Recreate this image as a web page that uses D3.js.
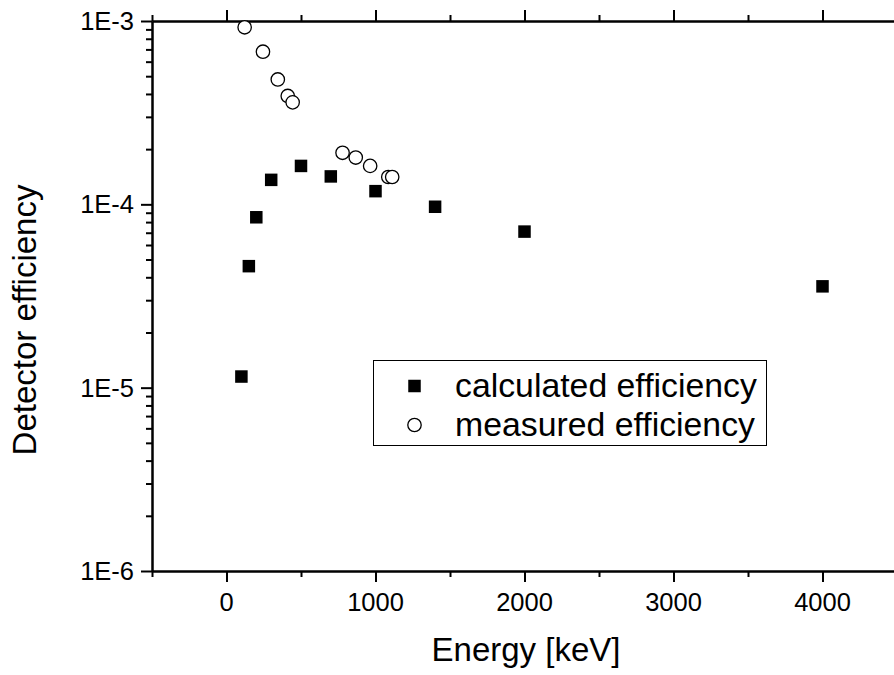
<!DOCTYPE html>
<html>
<head>
<meta charset="utf-8">
<script src="https://cdn.jsdelivr.net/npm/d3@7"></script>
<style>
  body { margin: 0; background: #fff; }
  svg { display: block; font-family: Arial, "Liberation Sans", sans-serif; }
  .axis path, .axis line { stroke: #000; stroke-width: 2; }
</style>
</head>
<body>
<div id="chart"></div>
<script>
var width = 894,
    height = 675;

// calculated efficiency (filled squares)
var calcEnergy = [100, 150, 200, 300, 500, 700, 1000, 1400, 2000, 4000];
var calcEff = [1.15e-5, 4.6e-5, 8.5e-5, 1.36e-4, 1.62e-4, 1.42e-4, 1.18e-4, 9.7e-5, 7.1e-5, 3.57e-5];

// measured efficiency (open circles)
var measEnergy = [121.8, 244.7, 344.3, 411.1, 444.0, 778.9, 867.4, 964.1, 1085.8, 1112.1];
var measEff = [9.24e-4, 6.8e-4, 4.8e-4, 3.9e-4, 3.6e-4, 1.91e-4, 1.80e-4, 1.62e-4, 1.41e-4, 1.41e-4];

var xMajor = [0, 1000, 2000, 3000, 4000];
var xMinor = [-500, 500, 1500, 2500, 3500, 4500];
var yMajor = [1e-6, 1e-5, 1e-4, 1e-3];
var yLabels = ["1E-6", "1E-5", "1E-4", "1E-3"];
var legendNames = ["calculated efficiency", "measured efficiency"];

var yMinor = [];
[1e-6, 1e-5, 1e-4].forEach(function (d) {
    for (var k = 2; k <= 9; k++) yMinor.push(d * k);
});

var plotLeft = 152, plotRight = 897, plotTop = 21, plotBottom = 571;

var x = d3.scaleLinear().domain([-500, 4500]).range([plotLeft, plotRight]);
var y = d3.scaleLog().domain([1e-6, 1e-3]).range([plotBottom, plotTop]);

var svg = d3.select("#chart")
    .append("svg")
    .attr("width", width)
    .attr("height", height);

// frame with ticks: outward on bottom/left, inward on top/right
svg.append("g").attr("class", "axis")
    .attr("transform", "translate(0," + plotBottom + ")")
    .call(d3.axisBottom(x).tickValues(xMajor).tickSize(11).tickSizeOuter(0).tickFormat(""));

svg.append("g").attr("class", "axis")
    .attr("transform", "translate(0," + plotBottom + ")")
    .call(d3.axisBottom(x).tickValues(xMinor).tickSize(6).tickSizeOuter(0).tickFormat(""));

svg.append("g").attr("class", "axis")
    .attr("transform", "translate(0," + plotTop + ")")
    .call(d3.axisBottom(x).tickValues(xMajor).tickSize(-11).tickSizeOuter(0).tickFormat(""));

svg.append("g").attr("class", "axis")
    .attr("transform", "translate(0," + plotTop + ")")
    .call(d3.axisBottom(x).tickValues(xMinor).tickSize(-6).tickSizeOuter(0).tickFormat(""));

svg.append("g").attr("class", "axis")
    .attr("transform", "translate(" + plotLeft + ",0)")
    .call(d3.axisLeft(y).tickValues(yMajor).tickSize(11).tickSizeOuter(0).tickFormat(""));

svg.append("g").attr("class", "axis")
    .attr("transform", "translate(" + plotLeft + ",0)")
    .call(d3.axisLeft(y).tickValues(yMinor).tickSize(6).tickSizeOuter(0).tickFormat(""));

svg.append("g").attr("class", "axis")
    .attr("transform", "translate(" + plotRight + ",0)")
    .call(d3.axisLeft(y).tickValues(yMajor).tickSize(-11).tickSizeOuter(0).tickFormat(""));

svg.append("g").attr("class", "axis")
    .attr("transform", "translate(" + plotRight + ",0)")
    .call(d3.axisLeft(y).tickValues(yMinor).tickSize(-6).tickSizeOuter(0).tickFormat(""));

// tick labels
svg.selectAll(".xlab")
    .data(xMajor)
    .enter()
    .append("text")
    .attr("x", function (d) { return x(d); })
    .attr("y", 611)
    .attr("text-anchor", "middle")
    .style("font-size", "25.5px")
    .text(function (d) { return d; });

svg.selectAll(".ylab")
    .data(yMajor)
    .enter()
    .append("text")
    .attr("x", 134)
    .attr("y", function (d) { return y(d) + 9; })
    .attr("text-anchor", "end")
    .style("font-size", "25.5px")
    .text(function (d, i) { return yLabels[i]; });

// axis titles
svg.append("text")
    .attr("x", 526)
    .attr("y", 661)
    .attr("text-anchor", "middle")
    .style("font-size", "33px")
    .text("Energy [keV]");

svg.append("text")
    .attr("transform", "translate(36,320) rotate(-90)")
    .attr("text-anchor", "middle")
    .style("font-size", "33px")
    .text("Detector efficiency");

// data
var sq = 12.5, rad = 6.7;
svg.selectAll(".calc")
    .data(calcEnergy)
    .enter()
    .append("rect")
    .attr("x", function (d) { return x(d) - sq / 2; })
    .attr("y", function (d, i) { return y(calcEff[i]) - sq / 2; })
    .attr("width", sq)
    .attr("height", sq)
    .attr("fill", "#000");

svg.selectAll(".meas")
    .data(measEnergy)
    .enter()
    .append("circle")
    .attr("cx", function (d) { return x(d); })
    .attr("cy", function (d, i) { return y(measEff[i]); })
    .attr("r", rad)
    .attr("fill", "#fff")
    .attr("stroke", "#000")
    .attr("stroke-width", 1.3);

// legend
var legend = svg.append("g");
legend.append("rect")
    .attr("x", 373.5)
    .attr("y", 360.5)
    .attr("width", 393)
    .attr("height", 85)
    .attr("fill", "#fff")
    .attr("stroke", "#000")
    .attr("stroke-width", 1);

legend.append("rect")
    .attr("x", 414.5 - sq / 2)
    .attr("y", 386 - sq / 2)
    .attr("width", sq)
    .attr("height", sq)
    .attr("fill", "#000");

legend.append("circle")
    .attr("cx", 414.5)
    .attr("cy", 425)
    .attr("r", rad)
    .attr("fill", "#fff")
    .attr("stroke", "#000")
    .attr("stroke-width", 1.3);

legend.selectAll(".lg")
    .data(legendNames)
    .enter()
    .append("text")
    .attr("x", 455)
    .attr("y", function (d, i) { return 397 + i * 39; })
    .style("font-size", "33.8px")
    .text(function (d) { return d; });
</script>
</body>
</html>
